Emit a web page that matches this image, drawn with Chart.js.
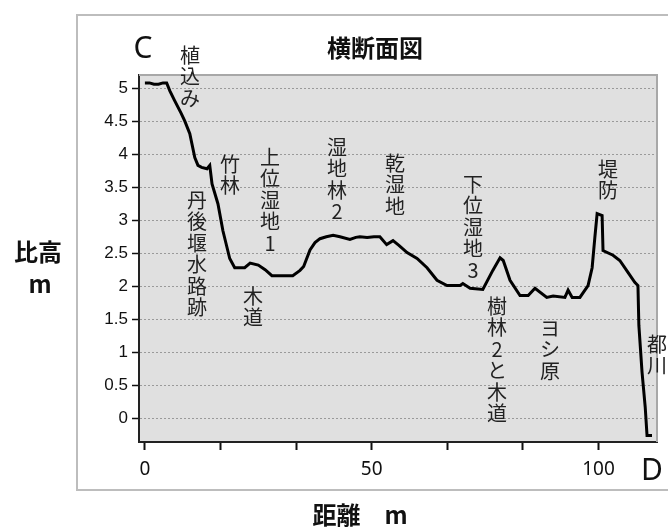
<!DOCTYPE html>
<html>
<head>
<meta charset="utf-8">
<script src="https://cdn.jsdelivr.net/npm/chart.js@4.4.1/dist/chart.umd.min.js"></script>
<style>
  html, body { margin: 0; padding: 0; background: #fff; }
  #wrap { width: 668px; height: 532px; position: relative; }
</style>
</head>
<body>
<div id="wrap"><canvas id="profile" width="668" height="532"></canvas></div>
<script>
const distances = [0, 1, 2, 3, 4, 4.8, 5.5, 6.5, 8, 8.8, 9.9, 11, 11.7, 12.5, 13.7, 14.3, 14.8, 16.1, 17.2, 18.7, 19.8,
    22, 23.2, 25, 26.5, 28, 32.6, 34.2, 35, 36.4, 37.5, 38.6, 40, 41.5, 43, 45.2, 46.5, 47.4, 49, 50.5, 51.8,
    53.3, 54.7, 56, 57.8, 60, 62.2, 64.4, 66.6, 69.5, 70.1, 71.7, 74.5, 76.7, 78.3, 79, 80.5, 82.7, 84.5, 86, 88.6,
    90, 92.6, 93.3, 94.2, 95.9, 97.7, 98.6, 99.2, 99.7, 100.8, 101, 103.2, 104.7, 106.5, 108, 108.7, 108.9, 109.6,
    110.3, 110.7, 111.8];
const heights = [5.08, 5.08, 5.06, 5.06, 5.08, 5.08, 4.96, 4.82, 4.62, 4.5, 4.31, 3.95, 3.83, 3.8, 3.78, 3.83, 3.55, 3.25, 2.84, 2.42, 2.28,
    2.28, 2.35, 2.32, 2.25, 2.16, 2.16, 2.24, 2.3, 2.55, 2.66, 2.72, 2.75, 2.77, 2.75, 2.71, 2.74, 2.75, 2.74, 2.75, 2.75,
    2.63, 2.69, 2.62, 2.51, 2.42, 2.28, 2.09, 2.01, 2.01, 2.04, 1.97, 1.95, 2.24, 2.43, 2.39, 2.09, 1.86, 1.86, 1.97, 1.83,
    1.85, 1.83, 1.94, 1.83, 1.83, 2.01, 2.28, 2.74, 3.1, 3.07, 2.54, 2.47, 2.39, 2.21, 2.06, 2.01, 1.41, 0.70,
    0.17, -0.26, -0.26];

const yTickValues = [0, 0.5, 1, 1.5, 2, 2.5, 3, 3.5, 4, 4.5, 5];
const xTickValues = [0, 50 / 3, 100 / 3, 50, 200 / 3, 250 / 3, 100];
const xTickLabels = ['0', '', '', '50', '', '', '100'];

// vegetation / landform labels, written top-to-bottom
const notes = [
    { text: '植込み', x: 190, y: 55 },
    { text: '竹林', x: 230, y: 164 },
    { text: '上位湿地1', x: 270, y: 157 },
    { text: '丹後堰水路跡', x: 197, y: 200 },
    { text: '木道', x: 253, y: 296 },
    { text: '湿地林2', x: 337, y: 147 },
    { text: '乾湿地', x: 395, y: 163 },
    { text: '下位湿地3', x: 473, y: 184 },
    { text: '堤防', x: 608, y: 169 },
    { text: '樹林2と木道', x: 497, y: 306 },
    { text: 'ヨシ原', x: 550, y: 328 },
    { text: '都川', x: 657, y: 344 }
];

const jpFont = '"Noto Sans CJK JP", "Noto Sans", sans-serif';

const decorations = {
    id: 'decorations',
    beforeDraw(chart) {
        const { ctx, chartArea: a } = chart;
        ctx.save();
        // outer frame
        ctx.strokeStyle = '#bdbdbd';
        ctx.lineWidth = 2;
        ctx.strokeRect(77, 15, 600, 475);
        // plot background
        ctx.fillStyle = '#e0e0e0';
        ctx.fillRect(a.left, a.top, a.right - a.left, a.bottom - a.top);
        ctx.restore();
    },
    afterDraw(chart) {
        const { ctx, chartArea: a } = chart;
        ctx.save();
        // light top / right edges of plot
        ctx.strokeStyle = '#a8a8a8';
        ctx.lineWidth = 2;
        ctx.beginPath();
        ctx.moveTo(a.left, a.top);
        ctx.lineTo(a.right, a.top);
        ctx.lineTo(a.right, a.bottom);
        ctx.stroke();

        ctx.fillStyle = '#111';
        ctx.textAlign = 'center';
        ctx.textBaseline = 'middle';

        ctx.font = '30px "Noto Sans", sans-serif';
        ctx.fillText('C', 143, 49);
        ctx.fillText('D', 652, 471);

        ctx.font = 'bold 24px ' + jpFont;
        ctx.fillText('横断面図', 375, 48);
        ctx.fillText('比高', 38, 252);
        ctx.fillText('m', 40, 284);
        ctx.fillText('距離　m', 360, 515);

        ctx.fillStyle = '#222';
        ctx.font = '20px ' + jpFont;
        notes.forEach(n => {
            [...n.text].forEach((ch, i) => ctx.fillText(ch, n.x, n.y + i * 21.5));
        });
        ctx.restore();
    }
};

new Chart(document.getElementById('profile'), {
    type: 'line',
    data: {
        datasets: [{
            data: distances.map((d, i) => ({ x: d, y: heights[i] })),
            borderColor: '#000',
            borderWidth: 3,
            pointRadius: 0,
            tension: 0,
            fill: false
        }]
    },
    options: {
        responsive: false,
        animation: false,
        devicePixelRatio: 1,
        layout: { padding: { left: 0, top: 75, right: 11, bottom: 0 } },
        plugins: { legend: { display: false }, tooltip: { enabled: false } },
        scales: {
            x: {
                type: 'linear',
                min: -1.3,
                max: 112.9,
                afterFit: s => { s.height = 90; },
                afterBuildTicks: s => { s.ticks = xTickValues.map(v => ({ value: v })); },
                grid: { drawOnChartArea: false, drawTicks: true, tickLength: 8, tickColor: '#111', tickWidth: 2 },
                border: { display: true, color: '#222', width: 2 },
                ticks: {
                    autoSkip: false,
                    maxRotation: 0,
                    padding: 8,
                    color: '#111',
                    font: { family: '"Noto Sans", sans-serif', size: 19 },
                    callback: (v, i) => xTickLabels[i]
                }
            },
            y: {
                min: -0.36,
                max: 5.2,
                afterFit: s => { s.width = 139; },
                afterBuildTicks: s => { s.ticks = yTickValues.map(v => ({ value: v })); },
                grid: { color: '#9a9a9a', lineWidth: 1, drawTicks: true, tickLength: 7, tickColor: '#111', tickWidth: 1.5, tickBorderDash: [] },
                border: { display: true, color: '#222', width: 2, dash: [2, 2] },
                ticks: {
                    padding: 4,
                    color: '#111',
                    font: { family: '"Liberation Sans Narrow", "Liberation Sans", sans-serif', size: 17 },
                    callback: (v, i) => String(yTickValues[i])
                }
            }
        }
    },
    plugins: [decorations]
});
</script>
</body>
</html>
